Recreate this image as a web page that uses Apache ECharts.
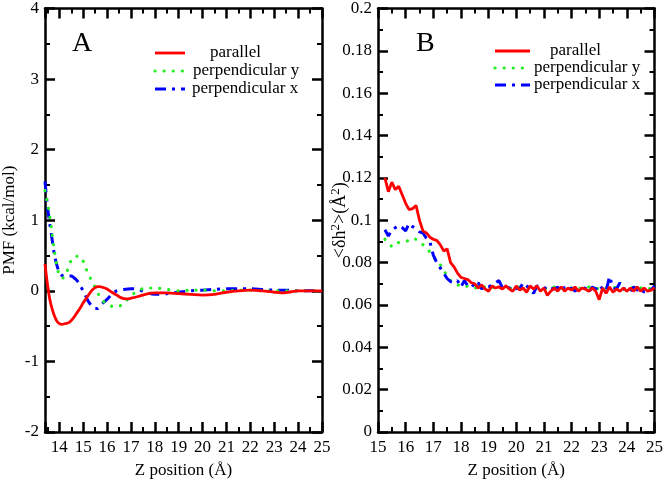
<!DOCTYPE html>
<html>
<head>
<meta charset="utf-8">
<script src="https://cdn.jsdelivr.net/npm/echarts@6/dist/echarts.min.js"></script>
<style>
html,body{margin:0;padding:0;background:#fff;}
#c{width:666px;height:484px;}
</style>
</head>
<body>
<div id="c"></div>
<script>
// ---------- Panel A: PMF ----------
const zA = [13.4,13.5,13.6,13.7,13.8,13.9,14.0,14.1,14.2,14.3,14.4,14.5,14.6,14.7,14.8,14.9,15.0,15.1,15.2,15.3,15.4,15.5,15.6,15.7,15.8,15.9,16.0,16.2,16.4,16.6,16.8,17.0,17.3,17.6,18.0,18.5,19.0,19.5,20.0,20.5,21.0,21.5,22.0,22.5,23.0,23.3,23.6,24.0,24.5,25.0];
const pmfParallel = [0.38,0.1,-0.12,-0.26,-0.36,-0.43,-0.465,-0.475,-0.47,-0.46,-0.45,-0.42,-0.38,-0.33,-0.28,-0.23,-0.17,-0.12,-0.07,-0.02,0.02,0.045,0.06,0.06,0.05,0.04,0.025,-0.02,-0.06,-0.1,-0.115,-0.105,-0.08,-0.05,-0.03,-0.03,-0.04,-0.05,-0.06,-0.05,-0.02,0.0,0.01,0.0,-0.02,-0.03,-0.02,0.0,0.0,0.0];

const zAx = [13.4,13.5,13.6,13.7,13.8,13.9,14.0,14.1,14.2,14.3,14.4,14.5,14.6,14.7,14.8,14.9,15.0,15.1,15.2,15.3,15.4,15.5,15.6,15.7,15.8,15.9,16.0,16.2,16.4,16.7,17.0,17.3,17.6,18.0,18.5,19.0,19.5,20.0,20.5,21.0,21.5,22.0,22.5,23.0,23.5,24.0,24.5,25.0];
const pmfPerpX = [1.55,1.2,0.95,0.72,0.5,0.36,0.26,0.22,0.21,0.21,0.21,0.21,0.19,0.16,0.12,0.06,0.0,-0.07,-0.14,-0.19,-0.23,-0.25,-0.25,-0.22,-0.18,-0.15,-0.12,-0.05,0.0,0.02,0.03,0.02,-0.02,-0.05,-0.04,-0.02,0.0,0.01,0.02,0.03,0.03,0.03,0.02,0.01,0.01,0.0,0.0,0.0];

const zAy = [13.4,13.5,13.6,13.7,13.8,13.9,14.0,14.1,14.2,14.3,14.4,14.5,14.6,14.7,14.8,14.9,15.0,15.1,15.2,15.3,15.4,15.5,15.6,15.7,15.8,15.9,16.0,16.2,16.4,16.6,16.8,17.0,17.3,17.6,18.0,18.5,19.0,19.5,20.0,20.5,21.0,21.5,22.0,22.5,23.0,23.5,24.0,24.5,25.0];
const pmfPerpY = [1.42,1.25,1.05,0.8,0.55,0.35,0.22,0.18,0.19,0.26,0.34,0.44,0.48,0.49,0.49,0.48,0.42,0.33,0.25,0.18,0.11,0.05,-0.02,-0.09,-0.13,-0.17,-0.19,-0.22,-0.23,-0.2,-0.14,-0.07,0.0,0.04,0.04,0.02,0.0,0.01,0.01,0.0,0.0,0.01,0.01,0.0,0.0,0.0,0.0,0.0,0.0];

// ---------- Panel B: <dh^2> ----------
const zB = [15.25,15.375,15.5,15.625,15.75,15.875,16.0,16.125,16.25,16.375,16.5,16.625,16.75,16.875,17.0,17.125,17.25,17.375,17.5,17.625,17.75,17.875,18.0,18.125,18.25,18.375,18.5,18.625,18.75,18.875,19.0,19.125,19.25,19.375,19.5,19.625,19.75,19.875,20.0,20.125,20.25,20.375,20.5,20.625,20.75,20.875,21.0,21.125,21.25,21.375,21.5,21.625,21.75,21.875,22.0,22.125,22.25,22.375,22.5,22.625,22.75,22.875,23.0,23.125,23.25,23.375,23.5,23.625,23.75,23.875,24.0,24.125,24.25,24.375,24.5,24.625,24.75,24.875,25.0];
const dhParallel = [0.120,0.1135,0.118,0.1145,0.116,0.112,0.108,0.105,0.1055,0.107,0.100,0.095,0.094,0.092,0.091,0.0905,0.0885,0.0855,0.0865,0.080,0.078,0.075,0.073,0.0725,0.072,0.0705,0.070,0.068,0.0695,0.0675,0.0665,0.069,0.068,0.0685,0.0675,0.069,0.0675,0.0665,0.069,0.067,0.068,0.066,0.069,0.0675,0.069,0.0665,0.068,0.0645,0.0665,0.068,0.0665,0.0685,0.0665,0.068,0.067,0.0685,0.0665,0.068,0.0675,0.0665,0.068,0.0665,0.0625,0.068,0.0655,0.0685,0.066,0.0675,0.0665,0.068,0.0665,0.068,0.0665,0.0685,0.0665,0.068,0.0665,0.067,0.068];
const dhPerpX = [0.0955,0.0925,0.0955,0.0965,0.0975,0.0965,0.095,0.0985,0.097,0.096,0.0945,0.094,0.0915,0.090,0.0835,0.080,0.0775,0.075,0.0725,0.071,0.0705,0.0715,0.0685,0.0715,0.069,0.070,0.0685,0.0705,0.0675,0.0695,0.0685,0.0695,0.0705,0.0715,0.068,0.0685,0.068,0.0665,0.068,0.0675,0.0705,0.069,0.0675,0.0655,0.069,0.0685,0.0685,0.067,0.068,0.0675,0.0685,0.066,0.0685,0.067,0.068,0.0665,0.068,0.0675,0.068,0.066,0.0685,0.0675,0.0695,0.0675,0.0665,0.0735,0.068,0.0675,0.0705,0.0675,0.068,0.0665,0.0685,0.067,0.068,0.066,0.0675,0.067,0.069];
const dhPerpY = [0.091,0.0895,0.0875,0.089,0.0895,0.090,0.090,0.0905,0.0915,0.091,0.0895,0.0885,0.087,0.085,0.0825,0.081,0.079,0.0765,0.0735,0.0715,0.0705,0.0695,0.069,0.0685,0.069,0.0685,0.068,0.0685,0.068,0.0685,0.068,0.0685,0.068,0.0675,0.068,0.0685,0.068,0.0675,0.068,0.0685,0.068,0.0685,0.068,0.0675,0.068,0.0685,0.068,0.0675,0.068,0.0685,0.068,0.0675,0.068,0.0685,0.068,0.0685,0.068,0.0675,0.068,0.0685,0.068,0.0675,0.068,0.0685,0.068,0.0675,0.068,0.0685,0.068,0.0675,0.068,0.0685,0.068,0.0675,0.068,0.0685,0.068,0.0675,0.068];

const seriesNames = ['parallel','perpendicular y','perpendicular x'];
const colors = ['#ff0000','#22ee22','#0000ff'];

const FONT = 'Liberation Serif';
const pairs = (xs, ys) => xs.map((x, i) => [x, ys[i]]);

const axisLine = {show: true, onZero: false, lineStyle: {color: '#000', width: 2.5}};
const tickMain = {show: true, inside: true, length: 10, lineStyle: {color: '#000', width: 2.5}};
const minorTick = {show: true, splitNumber: 2, length: 5, lineStyle: {color: '#000', width: 2}};
const lbl = {color: '#000', fontFamily: FONT, fontSize: 17};

function xAxes(gi, min, max) {
  return [
    {type: 'value', gridIndex: gi, min: min, max: max, minInterval: 1, maxInterval: 1,
     name: 'Z position (Å)', nameLocation: 'middle', nameGap: 30,
     nameTextStyle: {color: '#000', fontFamily: FONT, fontSize: 17},
     axisLine: axisLine, axisTick: tickMain, minorTick: minorTick, splitLine: {show: false},
     axisLabel: Object.assign({margin: 7, showMinLabel: gi === 1}, lbl)},
    {type: 'value', gridIndex: gi, position: 'top', min: min, max: max, minInterval: 1, maxInterval: 1,
     axisLine: axisLine, axisTick: tickMain, minorTick: minorTick, splitLine: {show: false},
     axisLabel: {show: false}}
  ];
}

const option = {
  animation: false,
  backgroundColor: '#fff',
  grid: [
    {left: 43, top: 6, width: 279, height: 433},
    {left: 378, top: 6, width: 279, height: 433}
  ],
  xAxis: [].concat(xAxes(0, 13.4, 25), xAxes(1, 15, 25)),
  yAxis: [
    {type: 'value', gridIndex: 0, min: -2, max: 4, interval: 1,
     name: 'PMF (kcal/mol)', nameLocation: 'middle', nameGap: 27,
     nameTextStyle: {color: '#000', fontFamily: FONT, fontSize: 17},
     axisLine: axisLine, axisTick: tickMain, minorTick: minorTick, splitLine: {show: false},
     axisLabel: Object.assign({margin: 6}, lbl)},
    {type: 'value', gridIndex: 0, position: 'right', min: -2, max: 4, interval: 1,
     axisLine: axisLine, axisTick: tickMain, minorTick: minorTick, splitLine: {show: false},
     axisLabel: {show: false}},
    {type: 'value', gridIndex: 1, min: 0, max: 0.2, interval: 0.02,
     name: '{n|<δh}{sup|2}{n|>(Å}{sup|2}{n|)}', nameLocation: 'middle', nameGap: 29,
     nameMoveOverlap: false,
     nameTextStyle: {color: '#000', fontFamily: FONT, fontSize: 18,
       rich: {
         n: {fontFamily: FONT, fontSize: 18, color: '#000', lineHeight: 20, verticalAlign: 'bottom'},
         sup: {fontFamily: FONT, fontSize: 13, color: '#000', lineHeight: 10, verticalAlign: 'top'}
       }},
     axisLine: axisLine, axisTick: tickMain, minorTick: minorTick, splitLine: {show: false},
     axisLabel: Object.assign({margin: 6}, lbl)},
    {type: 'value', gridIndex: 1, position: 'right', min: 0, max: 0.2, interval: 0.02,
     axisLine: axisLine, axisTick: tickMain, minorTick: minorTick, splitLine: {show: false},
     axisLabel: {show: false}}
  ],
  series: [
    {name: seriesNames[0], type: 'line', xAxisIndex: 0, yAxisIndex: 0, data: pairs(zA, pmfParallel),
     showSymbol: false, smooth: 0.3, lineStyle: {color: colors[0], width: 2.8}, z: 5},
    {name: seriesNames[1], type: 'line', xAxisIndex: 0, yAxisIndex: 0, data: pairs(zAy, pmfPerpY),
     showSymbol: false, smooth: 0.3, lineStyle: {color: colors[1], width: 3.2, type: [0.1, 9], cap: 'round'}, z: 4},
    {name: seriesNames[2], type: 'line', xAxisIndex: 0, yAxisIndex: 0, data: pairs(zAx, pmfPerpX),
     showSymbol: false, smooth: 0.3, lineStyle: {color: colors[2], width: 3, type: [11, 6, 3, 6]}, z: 3},

    {name: seriesNames[0], type: 'line', xAxisIndex: 2, yAxisIndex: 2, data: pairs(zB, dhParallel),
     showSymbol: false, lineStyle: {color: colors[0], width: 2.8}, z: 5},
    {name: seriesNames[1], type: 'line', xAxisIndex: 2, yAxisIndex: 2, data: pairs(zB, dhPerpY),
     showSymbol: false, lineStyle: {color: colors[1], width: 3.2, type: [0.1, 9], cap: 'round'}, z: 3},
    {name: seriesNames[2], type: 'line', xAxisIndex: 2, yAxisIndex: 2, data: pairs(zB, dhPerpX),
     showSymbol: false, lineStyle: {color: colors[2], width: 3, type: [11, 6, 3, 6]}, z: 4}
  ],
  graphic: []
};

// panel letters and legends
function legendGraphics(x0, x1, ys, textXs) {
  const g = [];
  const dashes = [null, [0.1, 9], [11, 6, 3, 6]];
  const widths = [2.8, 3.2, 3];
  for (let i = 0; i < 3; i++) {
    const ls = {stroke: colors[i], lineWidth: widths[i]};
    if (dashes[i]) ls.lineDash = dashes[i];
    if (i === 1) ls.lineCap = 'round';
    g.push({type: 'line', shape: {x1: x0, y1: ys[i], x2: x1, y2: ys[i]}, style: ls});
    g.push({type: 'text', x: textXs[i], y: ys[i], style: {text: seriesNames[i], fill: '#000',
      font: '17px "' + FONT + '"', textVerticalAlign: 'middle'}});
  }
  return g;
}
option.graphic = [].concat(
  [{type: 'text', x: 72, y: 30, style: {text: 'A', fill: '#000', font: '28px "' + FONT + '"'}},
   {type: 'text', x: 416, y: 30, style: {text: 'B', fill: '#000', font: '28px "' + FONT + '"'}}],
  legendGraphics(155, 185, [53, 71, 89], [210, 193, 192]),
  legendGraphics(495, 530, [51, 68, 85], [550, 534, 534])
);

const chart = echarts.init(document.getElementById('c'), null, {renderer: 'canvas'});
chart.setOption(option);
</script>
</body>
</html>
